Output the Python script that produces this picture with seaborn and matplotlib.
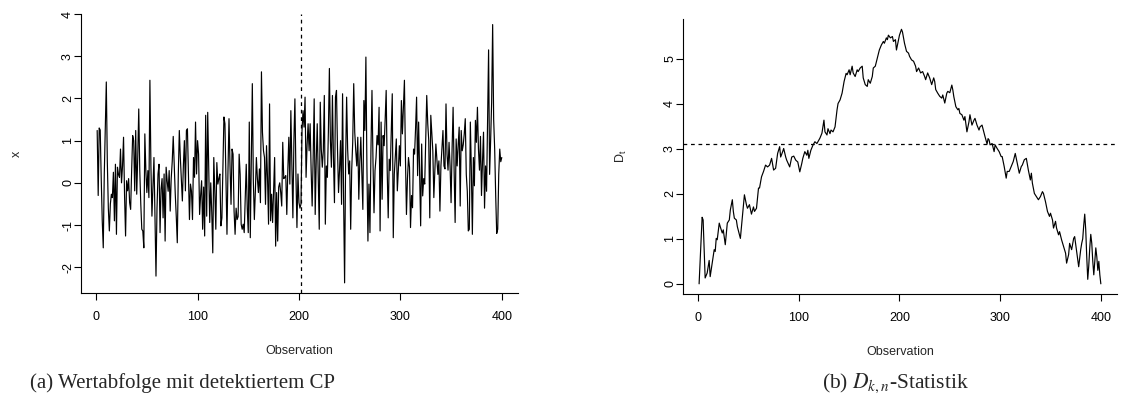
import numpy as np
import pandas as pd
import matplotlib
matplotlib.use("Agg")
import matplotlib.pyplot as plt
import seaborn as sns

# Wertabfolge (Beobachtungen 1..400)
x_vals = [
    1.24, -0.3, 1.3, 1.25, 0.1, -0.9, -1.54, 0.2, 1.3, 2.39,
    0.5, -0.6, -1.14, -0.5, -0.27, -0.35, 0.25, -0.9, 0.44, -1.22,
    0.37, 0.2, 0.13, 0.8, 0.0, 0.4, 1.08, -0.3, -1.26, 0.05,
    -0.19, 0.1, -0.47, -0.63, 0.3, 1.12, 1.0, -0.19, 1.24, -0.27,
    0.6, 1.75, 0.3, -0.5, -1.1, -1.14, -1.54, 1.16,
    0.3, -0.23, 0.29, -0.35, 2.43, 0.4, -0.79, -0.1, 0.6, -0.8,
    -2.21, -0.6, 0.21, 0.44, -1.18, -0.15, 0.1, -0.83, 0.21, -1.38,
    0.37, 0.05, -0.2, 0.29, -0.67, 0.1, 0.5, 1.1, 0.4, -0.27,
    -0.8, -1.42, 0.2, 1.24, 0.6, 0.1, -0.43, 0.4, 1.0, -0.19,
    1.24, 1.28, 0.2, -0.87, -0.03, -0.2, -0.87, 0.6,
    0.13, 1.44, 0.21, 1.0, 0.68, -0.75, -0.3, 0.05, -1.1, -0.1,
    -1.26, 1.6, -0.79, 1.67, 0.3, -0.94, 0.0, -0.7, -1.66, 0.6,
    -0.2, -1.1, 0.48, -0.03, 0.1, 0.21, -1.02, -0.83, 0.4, 1.56,
    1.4, 0.1, -1.22, 0.3, 1.52, 0.4, -0.51, 0.8, 0.68, -0.67,
    -1.22, -0.6, -0.87, -0.8, 0.68, 0.2, -0.98, -1.1,
    -0.98, -1.18, -0.4, 0.44, -0.6, -1.18, 1.44, -1.3, 0.5, 2.35,
    0.05, -0.87, -0.2, 0.6, 0.1, -0.23, 0.33, -0.47, 2.63, 1.2,
    0.76, 0.6, -0.51, 0.88, 0.1, -0.98, 1.87, -0.9, -0.27, -0.94,
    -0.2, 0.6, -1.5, -0.23, -1.38, -0.1, 0.0, -0.23, -0.55, 0.96,
    0.1, 0.13, 0.17, -0.75, 0.3, 1.08,
    -0.03, 1.71, 0.5, -0.83, 1.0, 1.99, 0.2, -1.06, 0.21, -0.47,
    -0.6, -0.5, 1.24, 1.71, 1.32, 2.03, 0.13, 0.9, 1.4, 0.76,
    1.4, 0.3, -0.55, 0.6, 1.99, -0.75, 0.5, 1.4, 0.1, -1.1,
    1.91, 0.8, 0.37, 0.76, 2.07, -0.98, 0.4, 0.13, 1.2, 2.71,
    1.0, 0.37, 2.07, 0.6, -0.47, 2.03,
    2.19, 0.8, -0.23, 0.3, 1.0, -0.51, 2.11, -0.35, -2.37, 0.5,
    2.03, 0.8, 0.21, 0.52, -1.1, 0.3, 0.96, 2.35, 1.2, 0.76,
    0.4, 1.08, -0.39, 0.5, 1.08, 0.2, -0.63, 1.95, 1.24, 2.98,
    0.4, -1.38, -0.03, -1.18, 0.8, 2.19, 0.5, -0.71, 0.29, 0.6,
    1.12, 0.9, 1.79, -1.14, 1.44, -0.39, 1.12,
    0.88, 1.5, 2.19, 0.3, -0.83, 0.56, 0.29, 1.2, 2.11, -1.3,
    0.2, 0.6, 1.04, -0.19, 0.3, 0.88, 0.4, 1.95, 1.16, 1.8,
    2.43, 0.6, -0.75, 0.1, 0.6, 0.37, -1.06, -0.3, -0.59, 0.8,
    0.68, 1.3, 2.03, 0.17, 1.44, 0.2, -1.02, 0.92, -0.31, 0.1,
    -0.03, 1.0, 2.07, 1.4, 1.0, -0.83,
    1.6, 1.2, 0.76, -0.35, 0.3, 0.92, 0.56, 0.2, 0.52, -0.67,
    0.4, 0.8, 1.24, 0.4, 0.33, 1.87, 0.68, 0.3, 0.96, 0.4,
    -0.47, 0.8, 1.79, 0.3, -0.94, 1.04, 0.4, 0.9, 1.32, -0.55,
    1.24, 0.76, 0.9, 1.16, 1.52, 0.2, -0.2, -1.14, -1.1, 1.44,
    0.3, -1.22, 0.6, -0.07, 1.48, 0.96, 1.79, 0.8,
    0.3, 1.1, -0.3, 0.5, 1.2, -0.6, 0.4, -0.2, 1.5, 3.15,
    0.2, 1.0, 1.9, 3.75, 1.5, 0.8, -0.3, -1.2, -1.1, 0.2,
    0.8, 0.5, 0.6,
]

d_obs = [
    1, 4, 5, 7, 9, 11, 12, 14, 16, 17, 18, 19, 21, 22, 24, 25, 27, 29, 31, 32,
    34, 35, 36, 38, 39, 42, 44, 46, 48, 49, 51, 53, 55, 56, 58, 60, 61, 63, 65, 67,
    69, 71, 73, 75, 77, 79, 81, 82, 84, 85, 87, 88, 91, 93, 95, 97, 99, 101, 103, 104,
    106, 108, 109, 110, 112, 114, 116, 118, 120, 121, 123, 125, 126, 128, 129, 131, 132, 134, 136, 138,
    139, 141, 143, 145, 147, 148, 150, 151, 153, 154, 156, 158, 159, 161, 163, 164, 166, 168, 169, 171,
    173, 174, 176, 178, 180, 182, 184, 185, 187, 188, 189, 191, 193, 194, 196, 197, 198, 200, 202, 203,
    205, 207, 209, 210, 212, 214, 216, 217, 219, 221, 223, 225, 226, 228, 230, 232, 234, 235, 236, 238,
    240, 242, 243, 245, 247, 248, 250, 252, 253, 254, 256, 258, 259, 260, 262, 264, 265, 267, 269, 270,
    272, 274, 275, 277, 279, 280, 282, 284, 285, 287, 288, 289, 290, 292, 294, 295, 297, 299, 301, 302,
    304, 306, 307, 309, 311, 313, 315, 317, 319, 321, 322, 324, 326, 328, 330, 331, 332, 334, 336, 338,
    340, 342, 343, 345, 347, 349, 350, 352, 353, 355, 356, 358, 359, 361, 363, 365, 366, 368, 369, 371,
    373, 374, 376, 378, 380, 381, 382, 383, 384, 385, 386, 387, 388, 389, 390, 391, 392, 393, 394, 395,
    396, 397, 398, 399, 400,
]
d_vals = [
    0.0, 1.48, 1.42, 0.13, 0.24, 0.52, 0.16, 0.46, 0.76, 0.72, 1.01, 0.98, 1.35, 1.27, 1.13, 1.2, 0.87, 1.35, 1.42, 1.64,
    1.87, 1.61, 1.46, 1.42, 1.27, 1.01, 1.5, 1.98, 1.76, 1.68, 1.76, 1.55, 1.71, 1.61, 1.68, 2.13, 2.13, 2.38, 2.5, 2.64,
    2.6, 2.64, 2.79, 2.53, 2.57, 2.9, 3.05, 2.82, 2.94, 3.01, 2.82, 2.75, 2.6, 2.82, 2.84, 2.75, 2.71, 2.49, 2.68, 2.79,
    2.94, 2.86, 2.97, 2.79, 2.97, 3.08, 3.16, 3.12, 3.2, 3.24, 3.35, 3.64, 3.38, 3.31, 3.45, 3.34, 3.42, 3.38, 3.49, 3.87,
    4.01, 4.09, 4.24, 4.5, 4.68, 4.65, 4.76, 4.65, 4.84, 4.69, 4.61, 4.76, 4.72, 4.8, 4.84, 4.58, 4.43, 4.39, 4.54, 4.46,
    4.61, 4.8, 4.84, 5.02, 5.2, 5.31, 5.39, 5.35, 5.47, 5.43, 5.53, 5.47, 5.5, 5.39, 5.43, 5.2, 5.31, 5.53, 5.66, 5.6,
    5.35, 5.17, 5.13, 5.06, 4.98, 4.95, 4.84, 4.72, 4.8, 4.69, 4.72, 4.61, 4.54, 4.69, 4.58, 4.43, 4.58, 4.5, 4.32, 4.24,
    4.17, 4.13, 4.2, 4.02, 4.24, 4.28, 4.25, 4.42, 4.31, 4.16, 3.94, 3.87, 3.9, 3.79, 3.76, 3.64, 3.72, 3.38, 3.6, 3.76,
    3.53, 3.64, 3.68, 3.53, 3.42, 3.49, 3.53, 3.35, 3.27, 3.11, 3.23, 3.2, 3.09, 3.12, 2.94, 3.09, 3.01, 2.94, 2.83, 2.83,
    2.61, 2.35, 2.5, 2.5, 2.61, 2.72, 2.9, 2.68, 2.46, 2.61, 2.64, 2.76, 2.79, 2.53, 2.31, 2.46, 2.24, 2.01, 1.94, 1.87,
    1.94, 2.05, 2.01, 1.83, 1.61, 1.5, 1.57, 1.42, 1.24, 1.39, 1.24, 1.09, 1.16, 0.98, 0.83, 0.68, 0.46, 0.65, 0.9, 0.76,
    1.01, 1.05, 0.72, 0.38, 0.76, 0.9, 1.0, 1.3, 1.55, 1.2, 0.6, 0.1, 0.4, 0.8, 1.1, 0.9, 0.5, 0.2, 0.5, 0.8,
    0.6, 0.3, 0.5, 0.2, 0.0,
]

cp_obs = 202        # detektierter Changepoint
threshold = 3.11    # kritischer Wert

x_ticks = [0, 100, 200, 300, 400]
x_left_ticks = [-2, -1, 0, 1, 2, 3, 4]
d_ticks = [0, 1, 2, 3, 4, 5]

sns.set_style("ticks")
plt.rcParams['font.family'] = ['Liberation Sans', 'DejaVu Sans']
plt.rcParams['axes.unicode_minus'] = False

fig = plt.figure(figsize=(11.45, 4.17), dpi=100)
ax1 = fig.add_axes([0.0707, 0.2974, 0.3817, 0.669])
ax2 = fig.add_axes([0.5965, 0.295, 0.379, 0.6595])

df_x = pd.DataFrame({'Observation': np.arange(1, len(x_vals) + 1), 'x': x_vals})
df_d = pd.DataFrame({'Observation': d_obs, 'D': d_vals})

sns.lineplot(data=df_x, x='Observation', y='x', ax=ax1, color='black',
             linewidth=0.85, estimator=None, sort=False)
ax1.axvline(cp_obs, color='black', linewidth=0.9, linestyle=(0, (3, 3)))

sns.lineplot(data=df_d, x='Observation', y='D', ax=ax2, color='black',
             linewidth=0.85, estimator=None, sort=False)
ax2.axhline(threshold, color='black', linewidth=0.9, linestyle=(0, (3, 3)))

ax1.set_xlim(-15, 416)
ax1.set_ylim(-2.61, 3.99)
ax2.set_xlim(-15, 416)
ax2.set_ylim(-0.226, 5.89)

for ax, yt in [(ax1, x_left_ticks), (ax2, d_ticks)]:
    ax.set_xticks(x_ticks)
    ax.set_yticks(yt)
    ax.spines[['top', 'right']].set_visible(False)
    for s in ['left', 'bottom']:
        ax.spines[s].set_linewidth(0.8)
        ax.spines[s].set_color('black')
    ax.tick_params(direction='out', length=5, width=0.8, colors='black', labelsize=9)
    ax.tick_params(axis='x', pad=8)
    ax.tick_params(axis='y', pad=0)
    for lab in ax.get_yticklabels():
        lab.set_rotation(90)
        lab.set_va('center')
    ax.set_xlabel('Observation', fontsize=9, labelpad=16)

ax1.set_ylabel('x', fontsize=9, labelpad=28)
ax2.set_ylabel(r'$\mathregular{D_t}$', fontsize=9, labelpad=25)

fig.text(0.159, 0.081, '(a) Wertabfolge mit detektiertem CP', ha='center', va='center',
         fontsize=15, family='Liberation Serif')
fig.text(0.782, 0.081, r'(b) $D_{k,n}$-Statistik', ha='center', va='center',
         fontsize=15.5, family='Liberation Serif', math_fontfamily='stix')

fig.savefig('out.png', dpi=100)
